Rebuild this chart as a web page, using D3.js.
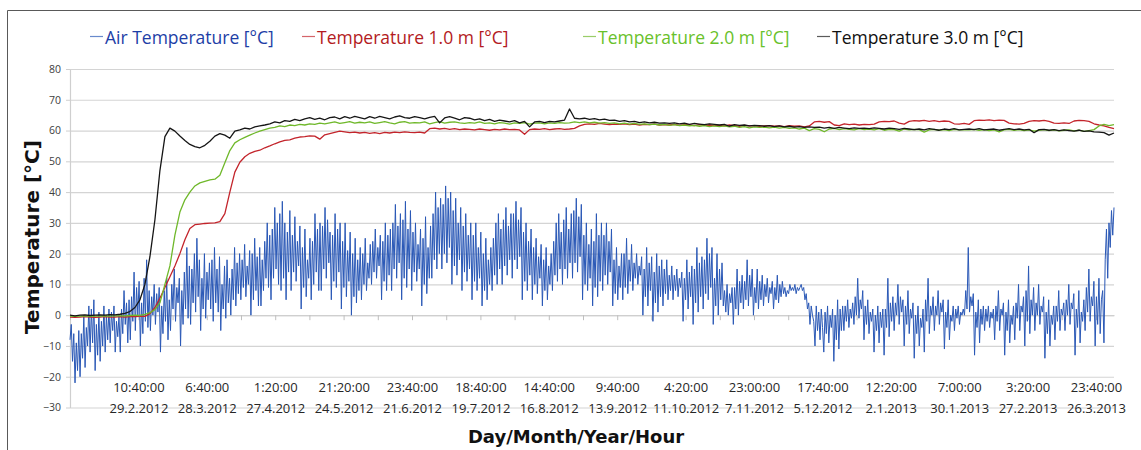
<!DOCTYPE html>
<html>
<head>
<meta charset="utf-8">
<script src="https://cdnjs.cloudflare.com/ajax/libs/d3/7.8.5/d3.min.js"></script>
<style>
  body { margin: 0; background: #fff; }
  text { font-family: "Open Sans", sans-serif; }
</style>
</head>
<body>
<div id="chart-container"></div>
<script>
// Axis ticks and category labels
var yTicks = [-30, -20, -10, 0, 10, 20, 30, 40, 50, 60, 70, 80];
var timeLabels = ["10:40:00", "6:40:00", "1:20:00", "21:20:00", "23:40:00", "18:40:00", "14:40:00", "9:40:00",
                  "4:20:00", "23:00:00", "17:40:00", "12:20:00", "7:00:00", "3:20:00", "23:40:00"];
var dateLabels = ["29.2.2012", "28.3.2012", "27.4.2012", "24.5.2012", "21.6.2012", "19.7.2012", "16.8.2012", "13.9.2012",
                  "11.10.2012", "7.11.2012", "5.12.2012", "2.1.2013", "30.1.2013", "27.2.2013", "26.3.2013"];
var totalCategories = 30770;   // 20-minute samples in the record
var labelEvery = 2016;         // a label every 2016 samples
var tickEvery = 1008;

// Air temperature [°C] (evenly spread over the record, ~2 values a day)
var airTemp = [
  -8, -3, -15, -6, -22, -9, -18, -5,   -20, -6, -14, 0, -17, -4, -10, 3,   -12, 2, -9, 5, -18, -3, -13, 1,
  -15, -2, -10, 3, -12, 0, -8, 2,   -9, 1, -5, 3, -12, -2, -7, 0,   -12, 2, -6, 8, -3, 4, -9, 5,
  -8, 6, -2, 14, -5, 9, 0, 11,   -10, 4, -6, 12, -2, 18, -4, 8,   -5, 6, 0, 10, -3, 7, 1, 9,
  -12, 3, -6, 8, -2, 12, -8, 5,   -5, 10, 2, 15, -2, 9, 4, 12,   -10, 8, -3, 14, 2, 22, -1, 16,
  -3, 15, 4, 20, 1, 25, 6, 18,   -5, 12, 2, 20, -1, 14, 5, 17,   2, 18, -2, 22, 4, 15, 1, 19,
  -5, 10, 2, 16, -1, 18, 4, 12,   0, 15, 5, 22, 3, 17, 7, 20,   5, 18, 9, 23, 6, 16, 10, 21,
  0, 20, 5, 25, 8, 19, 3, 22,   3, 18, 8, 24, 12, 30, 9, 26,   5, 28, 12, 35, 15, 30, 10, 33,
  8, 37, 12, 30, 5, 27, 14, 34,   8, 26, 14, 32, 11, 24, 16, 29,   2, 22, 9, 28, 6, 18, 12, 25,
  5, 24, 10, 33, 14, 28, 8, 30,   8, 29, 15, 35, 12, 31, 17, 27,   5, 26, 11, 33, 9, 28, 14, 30,
  2, 24, 9, 30, 6, 21, 11, 27,   0, 20, 6, 25, 4, 18, 8, 22,   5, 20, 10, 25, 8, 17, 12, 23,
  10, 24, 14, 28, 12, 22, 16, 26,   5, 24, 11, 30, 8, 26, 13, 28,   8, 30, 15, 36, 12, 29, 17, 33,
  5, 31, 12, 37, 9, 28, 15, 34,   8, 27, 14, 30, 11, 23, 15, 28,   3, 25, 10, 32, 7, 22, 12, 29,
  12, 33, 18, 40, 15, 35, 20, 38,   15, 36, 20, 42, 17, 38, 22, 40,   10, 34, 16, 38, 13, 30, 18, 35,
  8, 29, 14, 33, 11, 26, 15, 30,   5, 26, 11, 30, 8, 22, 12, 27,   3, 20, 8, 25, 5, 18, 10, 22,
  8, 25, 13, 30, 10, 33, 15, 28,   10, 31, 16, 35, 13, 29, 18, 33,   12, 33, 18, 37, 15, 31, 19, 35,
  5, 27, 11, 30, 8, 24, 13, 28,   5, 22, 10, 25, 7, 19, 12, 23,   3, 18, 8, 22, 5, 16, 10, 20,
  8, 24, 13, 30, 11, 33, 15, 27,   10, 31, 15, 35, 12, 28, 17, 33,   12, 34, 17, 38, 14, 32, 19, 36,
  5, 26, 10, 30, 8, 23, 12, 28,   3, 24, 9, 33, 6, 26, 11, 30,   8, 26, 13, 30, 10, 24, 14, 28,
  3, 18, 7, 22, 5, 16, 9, 20,   5, 20, 9, 25, 7, 18, 11, 23,   8, 17, 12, 20, 10, 16, 13, 19,
  0, 15, 6, 22, 3, 17, 8, 19,   -2, 14, 4, 20, 1, 16, 6, 18,   3, 15, 7, 18, 5, 13, 8, 16,
  5, 13, 8, 15, 6, 12, 9, 14,   -2, 12, 5, 18, 2, 14, 6, 16,   -3, 15, 4, 22, 1, 17, 6, 19,
  2, 18, 7, 25, 5, 20, 9, 22,   -3, 12, 3, 20, 0, 15, 5, 17,   3, 8, 1, 10, 0, 7, 4, 9,
  -3, 9, 2, 15, 0, 11, 4, 13,   2, 11, 5, 18, 3, 13, 6, 15,   0, 9, 4, 15, 2, 11, 5, 13,
  3, 10, 6, 12, 4, 9, 7, 11,   2, 9, 5, 13, 4, 10, 6, 11,   7, 9, 6, 8, 7, 10, 8, 9,
  8, 10, 7, 9, 8, 9, 10, 8,   9, 5, 7, 2, 4, -3, 3, 0,   -2, -10, 3, -5, 1, -8, 2, -4,
  -12, 1, -6, 3, -9, 0, -4, 2,   -15, 0, -8, 5, -11, 2, -5, 3,   -5, 3, -2, 5, -4, 2, -1, 4,
  -3, 6, 0, 12, -1, 5, 2, 8,   -8, 3, -3, 5, -6, 1, -2, 2,   -12, 0, -5, 3, -9, 1, -4, 2,
  -13, 2, -4, 12, -7, 4, -2, 6,   -5, 4, 0, 10, -3, 6, 1, 5,   -10, 3, -3, 8, -6, 2, -1, 4,
  -14, 0, -6, 3, -10, -1, -4, 2,   -12, 5, -2, 12, -6, 3, 0, 6,   -5, 3, 0, 8, -3, 4, 1, 5,
  -11, 1, -4, 5, -8, 0, -2, 3,   -5, 2, -1, 3, -3, 1, 0, 2,   0, 8, 2, 22, 1, 6, 3, 7,
  -13, 1, -4, 5, -9, 2, -3, 3,   -5, 2, -2, 3, -4, 1, -1, 2,   -8, 3, -2, 8, -5, 2, 0, 4,
  -13, 1, -5, 5, -9, 0, -3, 3,   -8, 4, -1, 10, -5, 3, 1, 6,   -10, 8, -2, 16, -6, 5, 0, 9,
  -5, 4, 0, 10, -3, 3, 1, 6,   -14, 1, -6, 5, -10, 0, -3, 3,   -8, 3, -2, 8, -5, 2, 0, 4,
  -5, 5, 0, 10, -3, 4, 2, 7,   -13, 2, -4, 8, -9, 1, -2, 5,   -5, 9, 1, 15, -2, 6, 3, 11,
  -10, 6, -3, 12, -6, 5, 8, -9,   18, 28, 12, 30, 22, 34, 26, 35
];

// Temperature at 1.0 m [°C]
var temp1m = [
  -0.6, -0.7, -0.6, -0.5, -0.6, -0.7, -0.6, -0.5, -0.6, -0.6,
  -0.5, -0.6, -0.5, -0.5, -0.4, -0.4, 0.5, 2.5, 5.5, 9,
  12.5, 16, 20, 24.5, 28.2, 29.4, 29.6, 29.8, 29.9, 30,
  30.4, 33, 40, 46.5, 49.7, 51.5, 52.6, 53.2, 53.6, 54.4,
  55, 55.7, 56.3, 56.8, 57, 57.5, 57.9, 58, 58.3, 58.2,
  57.2, 58.6, 59, 59.4, 59.8, 59.6, 59.3, 59.5, 59.2, 59.4,
  59.1, 59.3, 59, 59.4, 59.2, 59.5, 59.3, 59.6, 59.4, 59.3,
  59.5, 59.2, 60.6, 60.8, 60.5, 60.7, 60.4, 60.6, 60.3, 60.5,
  60.4, 60.2, 60.5, 60.3, 60.1, 60.4, 60.2, 60.5, 60.3, 60.4,
  60.2, 58.8, 60.3, 60.5, 60.4, 60.6, 60.3, 60.5, 60.6, 60.4,
  60.5, 60.7, 61.5, 62, 62.2, 62, 62.3, 62.1, 61.9, 62.1,
  62, 62.2, 61.9, 62.1, 61.8, 62, 61.9, 62.1, 61.8, 61.9,
  61.8, 62, 61.7, 61.9, 61.8, 61.6, 61.9, 61.7, 61.8, 61.6,
  61.7, 61.5, 61.8, 61.6, 61.4, 61.7, 61.5, 61.6, 61.4, 61.5,
  61.6, 61.4, 61.5, 61.3, 61.6, 61.4, 61.5, 61.2, 61.5, 62.8,
  63, 62.7, 62.9, 61.8, 61.6, 62.2, 61.9, 62.1, 61.8, 62,
  61.9, 62.1, 62.8, 63, 62.9, 63.1, 62.4, 62.1, 63, 63.2,
  63.1, 63.3, 63, 63.2, 62.9, 63.1, 63, 62.2, 62.1, 62.3,
  62, 63.2, 63.4, 63.3, 63.5, 63.2, 63.4, 63.3, 62.4, 62.2,
  62.1, 62.3, 63, 63.2, 63.1, 63.3, 63, 62.4, 62.3, 62.5,
  62.3, 63.1, 63.3, 63.2, 63, 62.2, 61.8, 61.5, 61, 60.6
];

// Temperature at 2.0 m [°C]
var temp2m = [
  -0.3, -0.4, -0.3, -0.2, -0.4, -0.3, -0.3, -0.2, -0.3, -0.2,
  -0.2, -0.2, -0.1, 0, -0.1, 0.3, 0.8, 1.8, 4, 10,
  16, 26, 33.5, 37.5, 40, 42, 43, 43.5, 44, 44.2,
  45.5, 49.5, 53.5, 56, 57, 57.8, 58.5, 59.2, 59.8, 60.3,
  60.8, 61, 61.5, 61.3, 61.8, 61.6, 62, 61.8, 62.2, 62,
  62.4, 62.2, 62.5, 62.8, 62.3, 62.6, 62.9, 62.4, 62.7, 62.5,
  62.8, 62.3, 62.6, 62.9, 62.5, 62.2, 62.7, 62.9, 62.4, 62.6,
  62.5, 62.8, 62.2, 62.6, 62.9, 62.4, 62.7, 62.8, 62.5, 62.3,
  62.6, 62.4, 62.8, 62.3, 62.5, 62.2, 62.6, 62.4, 62.1, 62.5,
  62.3, 62.6, 62.1, 62.4, 62.5, 62.2, 62.5, 62.3, 62.6, 62.4,
  62.5, 62.8, 62.6, 62.8, 62.5, 62.7, 62.4, 62.6, 62.3, 62.5,
  62.2, 62.4, 62.1, 62.3, 62, 62.2, 61.9, 62.1, 61.8, 62,
  61.7, 61.9, 61.6, 61.8, 61.5, 61.7, 61.4, 61.6, 61.3, 61.5,
  61.3, 61.5, 61.2, 61.4, 61, 61.3, 60.9, 61.2, 61, 61.1,
  60.9, 61.1, 60.8, 61, 60.7, 60.9, 60.5, 60.8, 60, 60.6,
  60.4, 59.6, 60.5, 60.7, 60.3, 60.6, 60.4, 60.2, 60.6, 60.3,
  60.5, 60.2, 60.6, 60.1, 60.4, 60.3, 59.8, 60.5, 60.2, 60.4,
  60.3, 59.5, 60.2, 60.4, 60.1, 60.3, 60, 60.4, 60.2, 60.3,
  60.2, 60.4, 60.1, 60.3, 60, 60.2, 59.6, 60.2, 60.4, 60.1,
  60.3, 60, 60.2, 59.8, 60.1, 60.3, 60, 60.2, 59.9, 60.1,
  60.2, 59.9, 60.1, 59.7, 60, 60.3, 61.5, 62, 61.6, 61.9
];

// Temperature at 3.0 m [°C]
var temp3m = [
  0, -0.2, 0, 0.1, -0.1, 0, 0.1, 0, 0.2, 0.1,
  0.3, 0.6, 1.2, 2.5, 5, 10, 19, 31, 47, 58,
  60.8, 59.8, 58.2, 56.8, 55.5, 54.8, 54.4, 55.2, 56.5, 58.2,
  59, 58.5, 57.5, 59.8, 60.2, 60.8, 60.5, 61.2, 61.5, 61.8,
  62.2, 62.8, 62.5, 63.2, 63, 63.6, 63.2, 63.8, 64.2, 63.6,
  64, 63.5, 64.2, 64.4, 63.8, 64.5, 64, 64.6, 64.2, 63.8,
  64.5, 64, 64.6, 64.2, 63.8, 64.4, 64.8, 64.2, 64, 64.5,
  64.2, 63.8, 64.3, 64.6, 62.5, 64.1, 64.5, 64, 63.5, 64.2,
  64, 63.5, 63.8, 63.2, 63.6, 63, 63.4, 63.1, 62.8, 63.2,
  62.5, 63, 61.2, 62.8, 63, 62.6, 63, 62.8, 63.1, 63.4,
  67, 64, 63.8, 64, 63.6, 63.9, 63.5, 63.7, 63.3, 63.4,
  63, 63.2, 62.8, 63, 62.6, 62.8, 62.5, 62.7, 62.4, 62.5,
  62.3, 62.5, 62.2, 62.4, 62, 62.3, 62.1, 61.9, 62.2, 62,
  61.8, 62, 61.4, 61.9, 61.7, 61.8, 61.5, 61.7, 61.6, 61.4,
  61.6, 61.3, 61.5, 61.2, 61.4, 61.1, 61.3, 61, 61.2, 61,
  61.1, 60.8, 61, 60.7, 61, 60.8, 60.6, 60.9, 60.7, 60.8,
  60.6, 60.9, 60.7, 60.5, 60.8, 60.6, 60.4, 60.7, 60.5, 60.3,
  60.5, 60.2, 60.6, 60.4, 60.1, 60.5, 60.3, 60.6, 60.2, 60.4,
  60.5, 60.3, 60.6, 60.2, 60.4, 60.5, 60.1, 60.4, 60.6, 60.3,
  60.5, 60.2, 60.4, 59.3, 60.3, 60.4, 60.1, 60.3, 60, 60.2,
  60, 59.8, 60.1, 59.7, 59.9, 59.6, 59.5, 59.3, 58.5, 59.2
];

var margin = {top: 69, left: 70},
    width = 1044,
    height = 338.5;

var svg = d3.select("#chart-container")
    .append("svg")
    .attr("width", 1141)
    .attr("height", 450);

// Chart frame (cut off at the right and bottom)
svg.append("path")
    .attr("d", "M7.5,450 V10.5 H1141")
    .attr("fill", "none")
    .attr("stroke", "#595959")
    .attr("stroke-width", 1);

var plot = svg.append("g")
    .attr("transform", "translate(" + margin.left + "," + margin.top + ")");

var xScale = d3.scaleLinear().domain([0, totalCategories]).range([0, width]);
var yScale = d3.scaleLinear().domain([-30, 80]).range([height, 0]);

// Horizontal gridlines
var grid = plot.append("g")
    .call(d3.axisLeft(yScale).tickValues(yTicks).tickSize(-width).tickFormat(""));
grid.select(".domain").remove();
grid.selectAll("line").attr("stroke", "#d4d4d4").attr("stroke-width", 1.2);

// Y axis
var yAxis = plot.append("g")
    .call(d3.axisLeft(yScale).tickValues(yTicks).tickSize(4).tickSizeOuter(0).tickPadding(5));
yAxis.select(".domain").attr("stroke", "#cfcfcf").attr("stroke-width", 1.2);
yAxis.selectAll("line").attr("stroke", "#cfcfcf");
yAxis.selectAll("text")
    .attr("fill", "#404040")
    .style("font-size", "10.5px");

// X axis crosses at 0, ticks hang below it
var xAxis = plot.append("g")
    .attr("transform", "translate(0," + yScale(0) + ")")
    .call(d3.axisBottom(xScale).tickValues(d3.range(0, totalCategories, tickEvery)).tickSize(5).tickSizeOuter(0).tickFormat(""));
xAxis.select(".domain").attr("stroke", "#cfcfcf").attr("stroke-width", 1.2);
xAxis.selectAll("line").attr("stroke", "#bfbfbf");

// Category labels sit at the bottom of the plot, two lines each
var labelPos = d3.range(1, timeLabels.length + 1).map(function(k) { return k * labelEvery; });
var xLabels = plot.append("g")
    .attr("transform", "translate(0," + height + ")")
    .call(d3.axisBottom(xScale).tickValues(labelPos).tickSize(0)
        .tickFormat(function(d, i) { return timeLabels[i]; }));
xLabels.select(".domain").remove();
xLabels.selectAll("text")
    .attr("y", -16)
    .attr("dy", 0)
    .attr("fill", "#262626")
    .style("font-size", "13px");
xLabels.selectAll(".tick").append("text")
    .attr("y", 5)
    .attr("fill", "#262626")
    .attr("text-anchor", "middle")
    .style("font-size", "13px")
    .text(function(d, i) { return dateLabels[i]; });

// Lines
var line = d3.line()
    .x(function(d) { return xScale(d.x); })
    .y(function(d) { return yScale(d.v); });

function toPoints(values) {
    var n = values.length - 1;
    return values.map(function(v, i) { return {x: i / n * totalCategories, v: v}; });
}

var series = [
    {name: "Air Temperature [°C]", values: airTemp, color: "#2a58b6", width: 1},
    {name: "Temperature 1.0 m [°C]", values: temp1m, color: "#c3242b", width: 1.3},
    {name: "Temperature 2.0 m [°C]", values: temp2m, color: "#6fb82a", width: 1.3},
    {name: "Temperature 3.0 m [°C]", values: temp3m, color: "#151515", width: 1.3}
];

var linesGroup = plot.append("g");
series.forEach(function(s) {
    linesGroup.append("path")
        .datum(toPoints(s.values))
        .attr("fill", "none")
        .attr("stroke", s.color)
        .attr("stroke-width", s.width)
        .attr("stroke-linejoin", "round")
        .attr("d", line);
});

// Legend
var legendX = [90, 302, 583, 817];
var legendText = ["#1d3ea6", "#b31b22", "#69c12a", "#111111"];
var legend = svg.append("g");
series.forEach(function(s, i) {
    legend.append("line")
        .attr("x1", legendX[i]).attr("x2", legendX[i] + 13)
        .attr("y1", 36.5).attr("y2", 36.5)
        .attr("stroke", s.color)
        .attr("stroke-opacity", 0.7)
        .attr("stroke-width", 1.2);
    legend.append("text")
        .attr("x", legendX[i] + 15)
        .attr("y", 43.5)
        .attr("fill", legendText[i])
        .style("font-size", "17.5px")
        .text(s.name);
});

// Axis titles
svg.append("text")
    .attr("transform", "translate(39,237) rotate(-90)")
    .attr("text-anchor", "middle")
    .style("font-family", "'DejaVu Sans', sans-serif")
    .style("font-weight", "bold")
    .style("font-size", "20px")
    .attr("fill", "#111")
    .text("Temperature [°C]");

svg.append("text")
    .attr("x", 576)
    .attr("y", 443)
    .attr("text-anchor", "middle")
    .style("font-family", "'DejaVu Sans', sans-serif")
    .style("font-weight", "bold")
    .style("font-size", "18px")
    .attr("fill", "#111")
    .text("Day/Month/Year/Hour");
</script>
</body>
</html>
